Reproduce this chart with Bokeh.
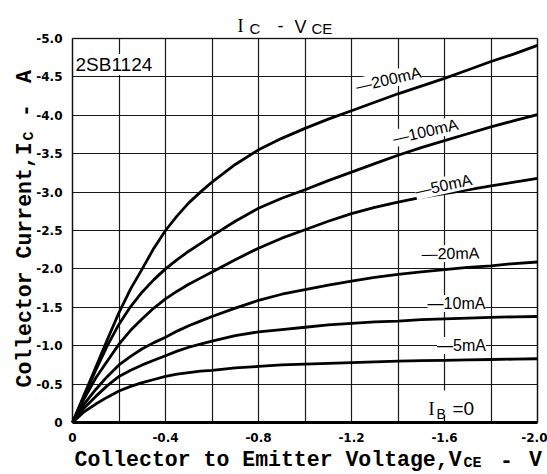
import math
from bokeh.plotting import figure
from bokeh.models import Range1d, FixedTicker, CustomJSTickFormatter, Label, BoxAnnotation
from bokeh.embed import file_html
from bokeh.resources import INLINE

# ---- data ----
vce = [0, -0.05, -0.1, -0.15, -0.2, -0.25, -0.3, -0.35, -0.4, -0.45, -0.5, -0.55, -0.6,
       -0.7, -0.8, -0.9, -1.0, -1.1, -1.2, -1.3, -1.4, -1.5, -1.6, -1.7, -1.8, -1.9, -2.0]
ic_200ma = [0, -0.36, -0.72, -1.08, -1.43, -1.74, -2.00, -2.27, -2.50, -2.69, -2.86, -3.00, -3.13,
            -3.36, -3.55, -3.70, -3.83, -3.95, -4.06, -4.17, -4.28, -4.38, -4.48, -4.59, -4.70, -4.80, -4.91]
ic_100ma = [0, -0.34, -0.68, -1.00, -1.28, -1.51, -1.70, -1.86, -2.00, -2.12, -2.23, -2.33, -2.43,
            -2.62, -2.79, -2.92, -3.03, -3.15, -3.26, -3.37, -3.48, -3.58, -3.67, -3.76, -3.85, -3.93, -4.01]
ic_50ma = [0, -0.31, -0.58, -0.80, -1.02, -1.20, -1.35, -1.49, -1.61, -1.71, -1.80, -1.88, -1.96,
           -2.12, -2.27, -2.40, -2.51, -2.62, -2.72, -2.80, -2.87, -2.93, -2.98, -3.03, -3.08, -3.13, -3.18]
ic_20ma = [0, -0.24, -0.43, -0.60, -0.75, -0.86, -0.96, -1.04, -1.11, -1.19, -1.26, -1.32, -1.38,
           -1.49, -1.59, -1.67, -1.73, -1.79, -1.84, -1.89, -1.93, -1.96, -1.99, -2.02, -2.04, -2.07, -2.09]
ic_10ma = [0, -0.19, -0.34, -0.48, -0.60, -0.68, -0.75, -0.81, -0.87, -0.93, -0.98, -1.02, -1.06,
           -1.13, -1.18, -1.21, -1.24, -1.27, -1.29, -1.31, -1.32, -1.34, -1.35, -1.36, -1.37, -1.375, -1.38]
ic_5ma = [0, -0.14, -0.24, -0.33, -0.41, -0.47, -0.52, -0.56, -0.60, -0.63, -0.65, -0.67, -0.68,
          -0.71, -0.73, -0.75, -0.76, -0.77, -0.78, -0.79, -0.80, -0.805, -0.81, -0.815, -0.82, -0.825, -0.83]
ic_0ma = [0] * 27

x_ticks = [0, -0.4, -0.8, -1.2, -1.6, -2.0]
x_grid = [0, -0.2, -0.4, -0.6, -0.8, -1.0, -1.2, -1.4, -1.6, -1.8, -2.0]
y_ticks = [0, -0.5, -1.0, -1.5, -2.0, -2.5, -3.0, -3.5, -4.0, -4.5, -5.0]

curve_labels = ["\u2014200mA", "\u2014100mA", "\u201450mA", "\u201420mA", "\u201410mA", "\u20145mA"]
device_name = "2SB1124"

# ---- layout: the plot frame covers the whole canvas; the chart box is
#      V = 0..-2.0 at px 72..537 and I = 0..-5.0 at px 422..38
W, H = 547, 474
PXV = 465 / 2.0     # px per volt
PXA = 384 / 5.0     # px per amp

def dx(px):  # canvas pixel -> data x
    return -(px - 72) / PXV

def dy(py):  # canvas pixel -> data y
    return -(422 - py) / PXA

x_rng = Range1d(start=dx(0), end=dx(W))
y_rng = Range1d(start=dy(H), end=dy(0))

p = figure(width=W, height=H, x_range=x_rng, y_range=y_rng,
           output_backend="svg", toolbar_location=None, title=None,
           min_border=0, min_border_left=0, min_border_right=0,
           min_border_top=0, min_border_bottom=0)
p.background_fill_color = "white"
p.border_fill_color = "white"
p.outline_line_color = None

fmt = CustomJSTickFormatter(code="return tick == 0 ? '0' : tick.toFixed(1);")
for ax, ticks in ((p.xaxis[0], x_ticks), (p.yaxis[0], y_ticks)):
    ax.ticker = FixedTicker(ticks=ticks)
    ax.formatter = fmt
    ax.fixed_location = 0
    ax.axis_line_color = None
    ax.major_tick_line_color = None
    ax.minor_tick_line_color = None
    ax.major_label_text_font = "DejaVu Sans"
    ax.major_label_text_font_style = "bold"
    ax.major_label_text_font_size = "12px"
    ax.major_label_text_color = "black"
    ax.major_label_standoff = 4

grid_ok = True
try:
    p.xgrid[0].cross_bounds = (0, -5.0)
    p.ygrid[0].cross_bounds = (0, -2.0)
except Exception:
    grid_ok = False

p.xgrid.ticker = FixedTicker(ticks=x_grid)
p.ygrid.ticker = FixedTicker(ticks=y_ticks)
for g in (p.xgrid[0], p.ygrid[0]):
    g.grid_line_color = "black"
    g.grid_line_width = 1.2
    g.grid_line_alpha = 0.9

if not grid_ok:
    for g in (p.xgrid[0], p.ygrid[0]):
        g.visible = False
    p.segment(x0=x_grid, y0=[0] * len(x_grid), x1=x_grid, y1=[-5.0] * len(x_grid),
              line_color="black", line_width=1.2, line_alpha=0.9)
    p.segment(x0=[0] * len(y_ticks), y0=y_ticks, x1=[-2.0] * len(y_ticks), y1=y_ticks,
              line_color="black", line_width=1.2, line_alpha=0.9)

for ys in (ic_200ma, ic_100ma, ic_50ma, ic_20ma, ic_10ma, ic_5ma, ic_0ma):
    p.line(vce, ys, line_color="black", line_width=2.8, line_join="round")

# chart box
p.add_layout(BoxAnnotation(left=0, right=-2.0, top=-5.0, bottom=0,
                           fill_alpha=0, line_color="black", line_width=2))
# white box behind I_B = 0
p.add_layout(BoxAnnotation(left=dx(425), right=dx(487), top=dy(390), bottom=dy(416),
                           fill_color="white", fill_alpha=1, line_color=None))

def lab(text, px, py, size, font="Liberation Sans", style="normal", align="left",
        baseline="alphabetic", angle=0.0, bg=None):
    kw = {}
    if bg:
        kw["background_fill_color"] = bg
    p.add_layout(Label(x=dx(px), y=dy(py), text=text, text_font=font,
                       text_font_size=f"{size}px", text_font_style=style,
                       text_align=align, text_baseline=baseline, angle=angle,
                       text_color="black", **kw))

# curve labels
label_pos = [(388, 79, 13.0), (425, 131, 12.8), (443, 185, 12.5),
             (450, 253, 1.0), (456, 303, 0.0), (461, 345, 0.0)]
for t, (px, py, a) in zip(curve_labels, label_pos):
    lab(t, px, py, 16, align="center", baseline="middle", angle=math.radians(a), bg="white")

# device name
lab(device_name, 75, 64, 19, bg="white")

# I_B = 0
lab("I", 428, 408, 18, font="Liberation Serif")
lab("B", 436, 413, 14)
lab("=0", 452, 408, 19)

# title  I_C - V_CE
lab("I", 237, 25, 18, font="Liberation Serif")
lab("C", 249, 28, 15)
lab("-", 277, 25, 18)
lab("V", 294, 26, 18)
lab("CE", 311, 28, 15)

# x axis label
mono = "Liberation Mono"
lab("Collector to Emitter Voltage,V", 74, 459, 21.5, font=mono, style="bold")
lab("CE", 463, 463, 15, font=mono, style="bold")
lab("-", 506, 459, 21.5, font=mono, style="bold", align="center")
lab("V", 535, 459, 21.5, font=mono, style="bold", align="center")

# y axis label (rotated)
lab("Collector Current,I", 24, 387, 21.5, font=mono, style="bold", angle=math.pi / 2)
lab("C", 29, 140, 15, font=mono, style="bold", angle=math.pi / 2)
lab("-", 24, 110, 21.5, font=mono, style="bold", align="center", angle=math.pi / 2)
lab("A", 24, 76, 21.5, font=mono, style="bold", align="center", angle=math.pi / 2)

open("out.html", "w").write(file_html(p, INLINE))
